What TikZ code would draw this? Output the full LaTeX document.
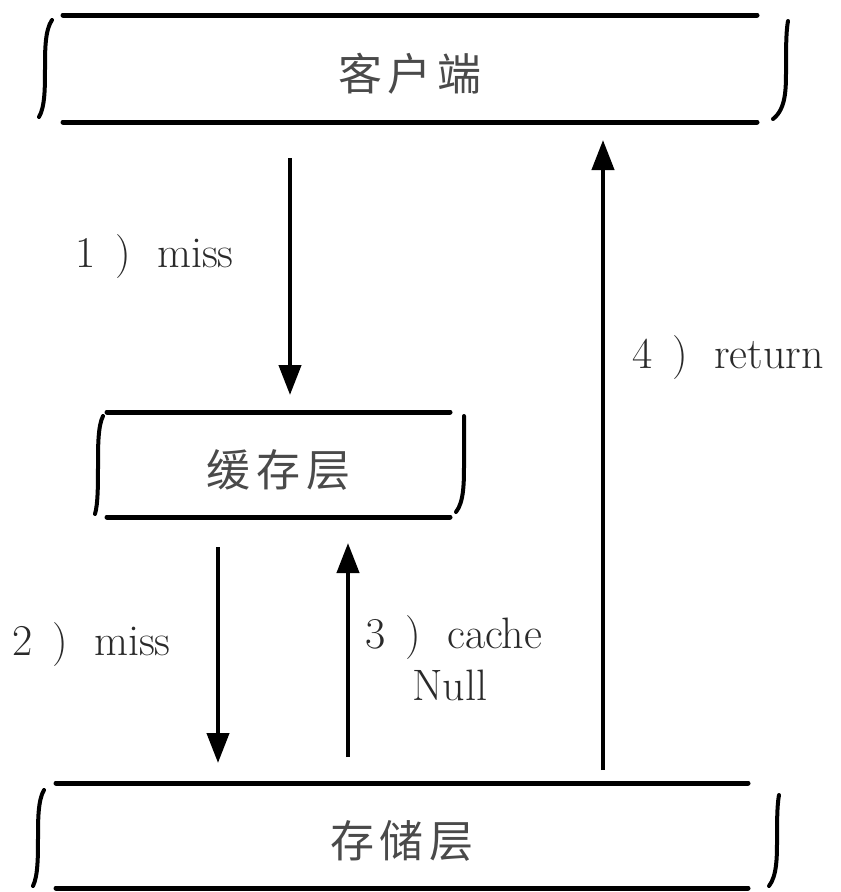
\documentclass[tikz,border=0pt]{standalone}
\usepackage{fontspec}
\newfontfamily\cjk{Noto Sans CJK SC}
\usetikzlibrary{arrows.meta}
\definecolor{labelgray}{HTML}{2A2A2A}
\definecolor{cjkgray}{HTML}{4A4A4A}
\newcommand\LBr[5]{\draw[brk] (#1,#2) .. controls (#3,#2+10) and (#3,#2+30) .. (#3,{(#2+#5)/2}) .. controls (#3,#5-30) and (#3,#5-10) .. (#4,#5);}
\newcommand\RBr[5]{\draw[brk] (#1,#2) .. controls (#3,#2+10) and (#3,#2+30) .. (#3,{(#2+#5)/2}) .. controls (#3,#5-30) and (#3,#5-10) .. (#4,#5);}
\tikzset{
  layer/.style={inner sep=0pt, outer sep=0pt, font=\cjk\fontsize{44}{48}\selectfont, text=cjkgray, text height=44pt, text depth=0pt},
  rim/.style={line width=5pt, line cap=round, black},
  brk/.style={line width=4pt, line cap=round, black},
  arr/.style={line width=4.2pt, black, -{Triangle[length=30pt,width=22pt]}},
  lbl/.style={anchor=base west, inner sep=0pt, font=\fontsize{44}{50}\selectfont, text=labelgray, align=left}
}
\newcommand\gp{\hspace{6pt}}
\begin{document}
\begin{tikzpicture}[x=1pt,y=-1pt]
\useasboundingbox (0,0) rectangle (841,892);
% boxes
\node[layer, minimum width=694pt, minimum height=107pt] (client) at (410,68.5) {客\gp 户\gp 端};
\node[layer, minimum width=343pt, minimum height=105pt] (cache) at (278.5,464.5) {缓\gp 存\gp 层};
\node[layer, minimum width=692pt, minimum height=105pt] (store) at (402,835.5) {存\gp 储\gp 层};
% box rims
\draw[rim] (client.north west) -- (client.north east);
\draw[rim] (client.south west) -- (client.south east);
\draw[rim] (cache.north west) -- (cache.north east);
\draw[rim] (cache.south west) -- (cache.south east);
\draw[rim] (store.north west) -- (store.north east);
\draw[rim] (store.south west) -- (store.south east);
% brackets
\LBr{52}{20}{45}{39}{117}
\RBr{788}{21}{786}{773}{119}
\LBr{103}{416}{98}{95}{514}
\RBr{464}{416}{464}{456}{512}
\LBr{44}{790}{38}{33}{886}
\RBr{779}{795}{777}{769}{886}
% connectors
\draw[arr] ([xshift=-120pt,yshift=-36pt]client.south) -- ([xshift=11.5pt,yshift=17pt]cache.north);
\draw[arr] ([xshift=-60.5pt,yshift=-30pt]cache.south) -- ([xshift=-184pt,yshift=20pt]store.north);
\draw[arr] ([xshift=-54pt,yshift=26pt]store.north) -- ([xshift=69.5pt,yshift=-26pt]cache.south);
\draw[arr] ([xshift=201pt,yshift=13pt]store.north) -- ([xshift=193pt,yshift=-18pt]client.south);
% labels
\node[lbl] (l1) at (75,267) {1\hspace{0.45em})\hspace{0.6em}miss};
\node[lbl] (l2) at (12,655) {2\hspace{0.45em})\hspace{0.6em}miss};
\node[lbl] (l3) at (365,648) {3\hspace{0.45em})\hspace{0.6em}cache};
\node[lbl] (l3b) at (412,700) {Null};
\node[lbl] (l4) at (632,368) {4\hspace{0.45em})\hspace{0.6em}return};
\end{tikzpicture}
\end{document}
